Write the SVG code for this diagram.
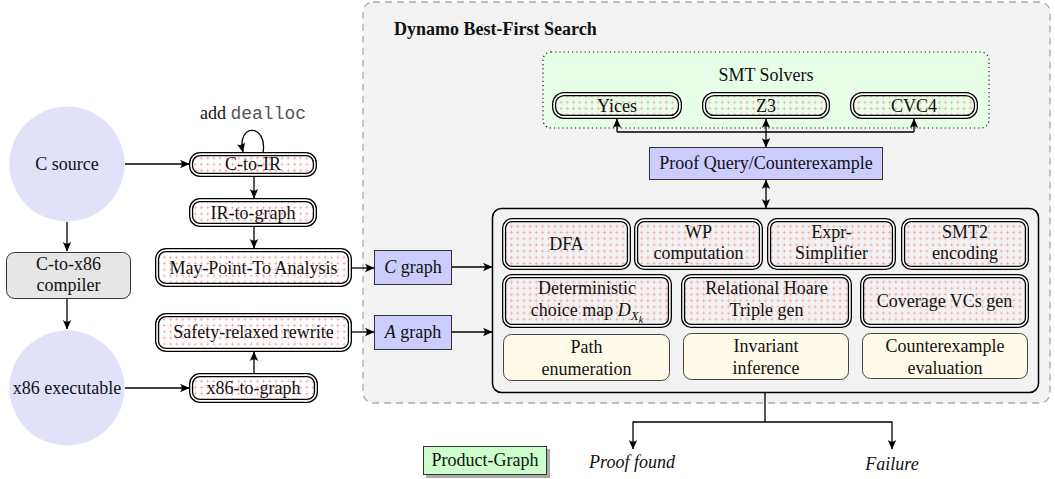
<svg xmlns="http://www.w3.org/2000/svg" width="1055" height="479" viewBox="0 0 1055 479">
<defs>
<pattern id="pat" width="6.2" height="6.2" patternUnits="userSpaceOnUse">
<path d="M1.6,3.1 H4.6 M3.1,1.6 V4.6" stroke="#f8b0b0" stroke-width="1"/>
</pattern>
<marker id="ah" viewBox="-10 -5 11 10" refX="0" refY="0" markerWidth="11" markerHeight="10" markerUnits="userSpaceOnUse" orient="auto-start-reverse">
<path d="M0.5,0 L-9,-4.2 Q-5.5,0 -9,4.2 Z" fill="#000"/>
</marker>
</defs>
<style>
text{font-family:"Liberation Serif","Times New Roman","DejaVu Serif",serif;font-size:18px;fill:#111;text-anchor:middle}
.b{font-weight:bold;text-anchor:start}
.it{font-style:italic}
.mono{font-family:"Liberation Mono","Courier New",monospace;fill:#555}
.dO{fill:url(#pat);stroke:#000;stroke-width:4.2}
.dI{fill:none;stroke:#fff;stroke-width:1.6}
.circ{fill:#e1e1f9}
.blue{fill:#ccccff;stroke:#333;stroke-width:1}
.yel{fill:#fffbe8;stroke:#444;stroke-width:1}
.ln{fill:none;stroke:#000;stroke-width:1.3}
.ar{fill:none;stroke:#000;stroke-width:1.3;marker-end:url(#ah)}
.dar{fill:none;stroke:#000;stroke-width:1.3;marker-start:url(#ah);marker-end:url(#ah)}
</style>
<rect width="1055" height="479" fill="#fff"/>

<g id="dynamo">
<rect x="363" y="2" width="687" height="401" rx="10" fill="#f2f2f2" stroke="#aaa" stroke-width="1.3" stroke-dasharray="7 5"/>
<text class="b" x="394" y="35">Dynamo Best-First Search</text>
</g>

<g id="smt-solvers">
<rect x="543" y="52" width="446" height="76" rx="8" fill="#e6ffe6" stroke="#111" stroke-width="1.1" stroke-dasharray="1.2 3"/>
<text x="766" y="81">SMT Solvers</text>
</g>
<g id="yices"><rect class="dO" x="554.1" y="94.1" width="125.8" height="22.8" rx="10"/><rect class="dI" x="554.1" y="94.1" width="125.8" height="22.8" rx="10"/><text x="617" y="112">Yices</text></g>
<g id="z3"><rect class="dO" x="704.1" y="94.1" width="123.8" height="22.8" rx="10"/><rect class="dI" x="704.1" y="94.1" width="123.8" height="22.8" rx="10"/><text x="766" y="112">Z3</text></g>
<g id="cvc4"><rect class="dO" x="852.1" y="94.1" width="123.8" height="22.8" rx="10"/><rect class="dI" x="852.1" y="94.1" width="123.8" height="22.8" rx="10"/><text x="914" y="112">CVC4</text></g>

<g id="proof-query"><rect class="blue" x="649.5" y="147.5" width="233" height="32"/><text x="766" y="169">Proof Query/Counterexample</text></g>

<g id="main-box"><rect x="492.5" y="208.5" width="546" height="184" rx="9" fill="#f2f2f2" stroke="#000" stroke-width="1.5"/></g>

<g id="dfa"><rect class="dO" x="504.1" y="220.1" width="124.8" height="47.8" rx="8"/><rect class="dI" x="504.1" y="220.1" width="124.8" height="47.8" rx="8"/><text x="566.5" y="250">DFA</text></g>
<g id="wp"><rect class="dO" x="636.1" y="220.1" width="124.8" height="47.8" rx="8"/><rect class="dI" x="636.1" y="220.1" width="124.8" height="47.8" rx="8"/><text x="698.5" y="238">WP</text><text x="698.5" y="259">computation</text></g>
<g id="expr"><rect class="dO" x="769.1" y="220.1" width="124.8" height="47.8" rx="8"/><rect class="dI" x="769.1" y="220.1" width="124.8" height="47.8" rx="8"/><text x="831.5" y="238">Expr-</text><text x="831.5" y="259">Simplifier</text></g>
<g id="smt2"><rect class="dO" x="903.1" y="220.1" width="123.8" height="47.8" rx="8"/><rect class="dI" x="903.1" y="220.1" width="123.8" height="47.8" rx="8"/><text x="965" y="238">SMT2</text><text x="965" y="259">encoding</text></g>

<g id="det"><rect class="dO" x="504.1" y="276.1" width="165.8" height="49.8" rx="8"/><rect class="dI" x="504.1" y="276.1" width="165.8" height="49.8" rx="8"/><text x="587" y="294">Deterministic</text><text x="587" y="316">choice map <tspan class="it">D</tspan><tspan class="it" font-size="13" dy="4">X</tspan><tspan class="it" font-size="10" dy="3">k</tspan></text></g>
<g id="rel"><rect class="dO" x="683.1" y="276.1" width="166.8" height="49.8" rx="8"/><rect class="dI" x="683.1" y="276.1" width="166.8" height="49.8" rx="8"/><text x="766.5" y="294">Relational Hoare</text><text x="766.5" y="316">Triple gen</text></g>
<g id="cov"><rect class="dO" x="862.1" y="276.1" width="164.8" height="49.8" rx="8"/><rect class="dI" x="862.1" y="276.1" width="164.8" height="49.8" rx="8"/><text x="944.5" y="307">Coverage VCs gen</text></g>

<g id="path-enum"><rect class="yel" x="503.5" y="334.5" width="166" height="46" rx="8"/><text x="586.5" y="353">Path</text><text x="586.5" y="375">enumeration</text></g>
<g id="invariant"><rect class="yel" x="683.5" y="333.5" width="165" height="46" rx="8"/><text x="766" y="352">Invariant</text><text x="766" y="374">inference</text></g>
<g id="cex-eval"><rect class="yel" x="862.5" y="333.5" width="165" height="45" rx="8"/><text x="945" y="352">Counterexample</text><text x="945" y="374">evaluation</text></g>

<g id="c-source"><circle class="circ" cx="67" cy="164" r="57.5"/><text x="67" y="170">C source</text></g>
<g id="compiler"><rect x="6.5" y="252.5" width="124" height="46" rx="8" fill="#e6e6e6" stroke="#333" stroke-width="1"/><text x="68.5" y="270">C-to-x86</text><text x="68.5" y="291">compiler</text></g>
<g id="x86-exec"><circle class="circ" cx="67" cy="388" r="57.5"/><text x="67" y="394">x86 executable</text></g>

<g id="dealloc-label"><text x="253" y="119">add <tspan class="mono">dealloc</tspan></text></g>
<g id="c-to-ir"><rect class="dO" x="191.1" y="154.1" width="123.8" height="20.8" rx="9"/><rect class="dI" x="191.1" y="154.1" width="123.8" height="20.8" rx="9"/><text x="253" y="170">C-to-IR</text></g>
<g id="ir-to-graph"><rect class="dO" x="191.1" y="200.1" width="123.8" height="24.8" rx="9"/><rect class="dI" x="191.1" y="200.1" width="123.8" height="24.8" rx="9"/><text x="253" y="219">IR-to-graph</text></g>
<g id="may-point-to"><rect class="dO" x="157.1" y="250.1" width="192.8" height="34.8" rx="9"/><rect class="dI" x="157.1" y="250.1" width="192.8" height="34.8" rx="9"/><text x="253.5" y="274">May-Point-To Analysis</text></g>
<g id="safety"><rect class="dO" x="157.1" y="315.1" width="192.8" height="34.8" rx="9"/><rect class="dI" x="157.1" y="315.1" width="192.8" height="34.8" rx="9"/><text x="253.5" y="338">Safety-relaxed rewrite</text></g>
<g id="x86-to-graph"><rect class="dO" x="191.1" y="375.1" width="124.8" height="25.8" rx="9"/><rect class="dI" x="191.1" y="375.1" width="124.8" height="25.8" rx="9"/><text x="253.5" y="394">x86-to-graph</text></g>

<g id="c-graph"><rect class="blue" x="374.5" y="250.5" width="77" height="34"/><text x="413" y="273"><tspan class="it">C</tspan> graph</text></g>
<g id="a-graph"><rect class="blue" x="374.5" y="315.5" width="77" height="34"/><text x="413" y="338"><tspan class="it">A</tspan> graph</text></g>

<g id="product-graph"><rect x="426" y="449" width="124" height="29" fill="#aaa"/><rect x="423.5" y="446.5" width="123" height="28" fill="#ccffcc" stroke="#333" stroke-width="1"/><text x="485" y="466">Product-Graph</text></g>
<g id="proof-found"><text class="it" x="632" y="468">Proof found</text></g>
<g id="failure"><text class="it" x="892" y="470">Failure</text></g>

<g id="connectors">
<path class="ar" d="M125,164 H189"/>
<path class="ar" d="M125,388 H189"/>
<path class="ar" d="M263,153 C268,123 236,123 243,152"/>
<path class="ar" d="M254,177 V198"/>
<path class="ar" d="M254,227 V248"/>
<path class="ar" d="M254,373 V352"/>
<path class="ar" d="M67,222 V251"/>
<path class="ar" d="M67,299 V329"/>
<path class="ar" d="M352,268 H374"/>
<path class="ar" d="M352,332 H374"/>
<path class="ar" d="M452,267 H492"/>
<path class="ar" d="M452,332 H492"/>
<path class="ln" d="M617,132 H914"/>
<path class="ar" d="M617,132 V119"/>
<path class="ar" d="M914,132 V119"/>
<path class="dar" d="M766,119 V147"/>
<path class="dar" d="M766,180 V208"/>
<path class="ln" d="M765,393 V422 M633,422 H892"/>
<path class="ar" d="M633,421.4 V449"/>
<path class="ar" d="M892,421.4 V449"/>
</g>
</svg>
